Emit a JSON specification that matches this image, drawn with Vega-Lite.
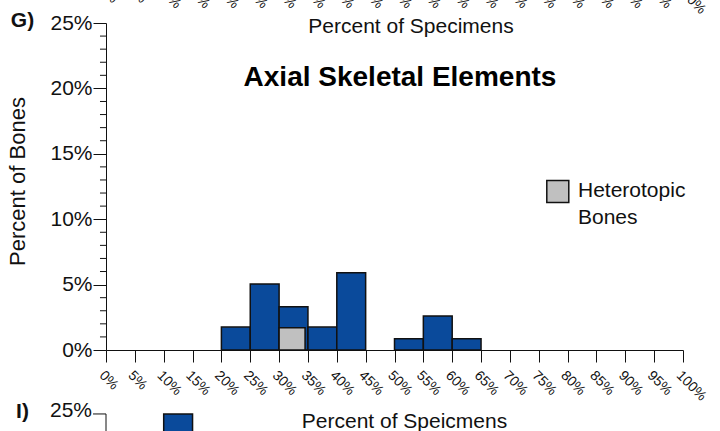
{
  "$schema": "https://vega.github.io/schema/vega-lite/v6.json",
  "width": 577,
  "height": 327,
  "autosize": {"type": "none"},
  "padding": {"left": 106, "top": 23, "right": 37, "bottom": 81},
  "background": "white",
  "config": {
    "view": {"stroke": null},
    "font": "Liberation Sans",
    "axis": {"labelFont": "Liberation Sans", "titleFont": "Liberation Sans", "grid": false},
    "text": {"font": "Liberation Sans", "color": "#111"}
  },
  "datasets": {
    "bins": [
      {"start": 20, "end": 25, "pct": 1.75},
      {"start": 25, "end": 30, "pct": 5.05},
      {"start": 30, "end": 35, "pct": 3.3},
      {"start": 35, "end": 40, "pct": 1.75},
      {"start": 40, "end": 45, "pct": 5.9},
      {"start": 50, "end": 55, "pct": 0.86},
      {"start": 55, "end": 60, "pct": 2.6},
      {"start": 60, "end": 65, "pct": 0.86}
    ],
    "hetero": [{"start": 30, "end": 34.5, "pct": 1.7}],
    "nextPanel": [{"start": 10, "end": 15}],
    "minor": [
      {"v": 1}, {"v": 2}, {"v": 3}, {"v": 4}, {"v": 6}, {"v": 7}, {"v": 8}, {"v": 9},
      {"v": 11}, {"v": 12}, {"v": 13}, {"v": 14}, {"v": 16}, {"v": 17}, {"v": 18}, {"v": 19},
      {"v": 21}, {"v": 22}, {"v": 23}, {"v": 24}
    ],
    "edges": [
      {"v": 0, "label": "0%"}, {"v": 5, "label": "5%"}, {"v": 10, "label": "10%"}, {"v": 15, "label": "15%"},
      {"v": 20, "label": "20%"}, {"v": 25, "label": "25%"}, {"v": 30, "label": "30%"}, {"v": 35, "label": "35%"},
      {"v": 40, "label": "40%"}, {"v": 45, "label": "45%"}, {"v": 50, "label": "50%"}, {"v": 55, "label": "55%"},
      {"v": 60, "label": "60%"}, {"v": 65, "label": "65%"}, {"v": 70, "label": "70%"}, {"v": 75, "label": "75%"},
      {"v": 80, "label": "80%"}, {"v": 85, "label": "85%"}, {"v": 90, "label": "90%"}, {"v": 95, "label": "95%"},
      {"v": 100, "label": "100%"}
    ],
    "one": [{}]
  },
  "layer": [
    {
      "data": {"name": "bins"},
      "mark": {"type": "rect", "fill": "#0a4a9b", "stroke": "#111", "strokeWidth": 1.5},
      "encoding": {
        "x": {
          "field": "start", "type": "quantitative",
          "scale": {"domain": [0, 100], "nice": false, "zero": false},
          "axis": {
            "values": [0,5,10,15,20,25,30,35,40,45,50,55,60,65,70,75,80,85,90,95,100],
            "tickCount": 30,
            "labelExpr": "datum.value + '%'",
            "labelAngle": 45, "labelAlign": "left", "labelBaseline": "top",
            "labelFontSize": 14, "labelPadding": 6, "labelColor": "#111",
            "labelOverlap": false, "labelFlush": false, "labelBound": false,
            "tickSize": 12, "tickColor": "#111", "domainColor": "#111",
            "title": "Percent of Speicmens", "titleFontSize": 21, "titleFontWeight": "normal",
            "titleColor": "#111", "titleX": 298, "titleY": 77, "titleBaseline": "alphabetic", "titleAlign": "center"
          }
        },
        "x2": {"field": "end"},
        "y": {
          "field": "pct", "type": "quantitative",
          "scale": {"domain": [0, 25], "nice": false},
          "axis": {
            "values": [0, 5, 10, 15, 20, 25],
            "tickCount": 30,
            "labelExpr": "datum.value + '%'",
            "tickSize": 13,
            "labelPadding": 1, "labelFontSize": 21, "labelColor": "#111",
            "labelOverlap": false, "labelFlush": false, "labelBaseline": "middle",
            "tickColor": "#111", "domainColor": "#111",
            "title": "Percent of Bones", "titleFontSize": 22, "titleFontWeight": "normal",
            "titleColor": "#111", "titleX": -89, "titleY": 158, "titleAngle": -90,
            "titleBaseline": "middle", "titleAlign": "center"
          }
        },
        "y2": {"datum": 0}
      }
    },
    {
      "data": {"name": "minor"},
      "mark": {"type": "rule", "stroke": "#111", "strokeWidth": 1},
      "encoding": {
        "x": {"datum": -1.04, "type": "quantitative"},
        "x2": {"datum": 0},
        "y": {"field": "v", "type": "quantitative"}
      }
    },
    {
      "data": {"name": "hetero"},
      "mark": {"type": "rect", "fill": "#c0c0c0", "stroke": "#111", "strokeWidth": 1.5},
      "encoding": {
        "x": {"field": "start", "type": "quantitative"},
        "x2": {"field": "end"},
        "y": {"field": "pct", "type": "quantitative"},
        "y2": {"datum": 0}
      }
    },
    {
      "data": {"name": "nextPanel"},
      "mark": {"type": "rect", "fill": "#0a4a9b", "stroke": "#111", "strokeWidth": 1.5},
      "encoding": {
        "x": {"field": "start", "type": "quantitative"},
        "x2": {"field": "end"},
        "y": {"datum": -4.89, "type": "quantitative"},
        "y2": {"datum": -9}
      }
    },
    {
      "data": {"name": "one"},
      "mark": {"type": "rule", "stroke": "#111", "strokeWidth": 1},
      "encoding": {
        "x": {"datum": -2.25, "type": "quantitative"},
        "x2": {"datum": 0},
        "y": {"datum": -4.89, "type": "quantitative"}
      }
    },
    {
      "data": {"name": "one"},
      "mark": {"type": "rule", "stroke": "#111", "strokeWidth": 1},
      "encoding": {
        "x": {"datum": 0, "type": "quantitative"},
        "y": {"datum": -4.89, "type": "quantitative"},
        "y2": {"datum": -9}
      }
    },
    {
      "data": {"name": "one"},
      "mark": {"type": "text", "align": "right", "baseline": "middle", "fontSize": 21, "dx": -14, "dy": -3},
      "encoding": {
        "x": {"datum": 0, "type": "quantitative"},
        "y": {"datum": -4.89, "type": "quantitative"},
        "text": {"value": "25%"}
      }
    },
    {
      "data": {"name": "one"},
      "mark": {"type": "text", "align": "center", "baseline": "middle", "fontSize": 21, "fontWeight": "bold"},
      "encoding": {
        "x": {"datum": -14.47, "type": "quantitative"},
        "y": {"datum": -4.74, "type": "quantitative"},
        "text": {"value": "I)"}
      }
    },
    {
      "data": {"name": "one"},
      "mark": {"type": "text", "align": "center", "baseline": "middle", "fontSize": 21, "fontWeight": "bold"},
      "encoding": {
        "x": {"datum": -14.47, "type": "quantitative"},
        "y": {"datum": 25.19, "type": "quantitative"},
        "text": {"value": "G)"}
      }
    },
    {
      "data": {"name": "one"},
      "mark": {"type": "text", "align": "center", "baseline": "alphabetic", "fontSize": 21},
      "encoding": {
        "x": {"datum": 52.86, "type": "quantitative"},
        "y": {"datum": 24.24, "type": "quantitative"},
        "text": {"value": "Percent of Specimens"}
      }
    },
    {
      "data": {"name": "edges"},
      "mark": {"type": "text", "align": "left", "baseline": "top", "fontSize": 14, "angle": 45},
      "encoding": {
        "x": {"field": "v", "type": "quantitative"},
        "y": {"datum": 28.15, "type": "quantitative"},
        "text": {"field": "label"}
      }
    },
    {
      "data": {"name": "one"},
      "mark": {"type": "text", "align": "center", "baseline": "alphabetic", "fontSize": 28, "fontWeight": "bold", "color": "#000"},
      "encoding": {
        "x": {"datum": 50.95, "type": "quantitative"},
        "y": {"datum": 20.18, "type": "quantitative"},
        "text": {"value": "Axial Skeletal Elements"}
      }
    },
    {
      "data": {"name": "one"},
      "mark": {"type": "point", "shape": "square", "filled": true, "fill": "#c0c0c0", "stroke": "#111", "strokeWidth": 1.5, "size": 484, "opacity": 1},
      "encoding": {
        "x": {"datum": 78.3, "type": "quantitative"},
        "y": {"datum": 12.12, "type": "quantitative"}
      }
    },
    {
      "data": {"name": "one"},
      "mark": {"type": "text", "align": "left", "baseline": "alphabetic", "fontSize": 21, "lineHeight": 27},
      "encoding": {
        "x": {"datum": 81.8, "type": "quantitative"},
        "y": {"datum": 11.7, "type": "quantitative"},
        "text": {"value": ["Heterotopic", "Bones"]}
      }
    }
  ]
}
